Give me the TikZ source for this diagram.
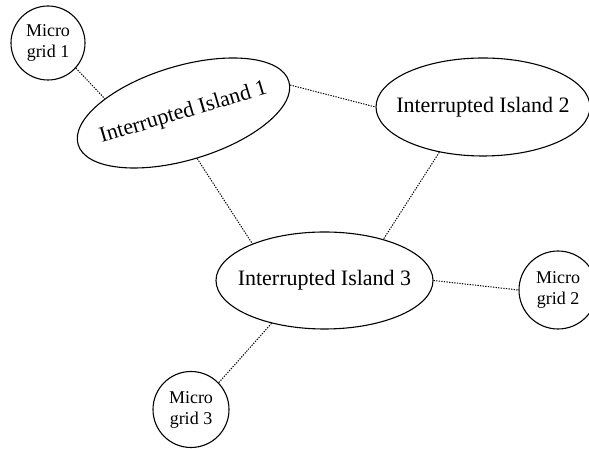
\documentclass[tikz,border=0pt]{standalone}
\usepackage{fontspec}
\setmainfont{Liberation Serif}
\usetikzlibrary{shapes.geometric}
\newcommand{\islandlabel}[1]{\makebox[0pt]{#1}}

\begin{document}
\begin{tikzpicture}[x=1pt,y=1pt,
        island/.style={ellipse,draw,line width=1.1pt,inner sep=0pt,font=\fontsize{22}{26}\selectfont},
        mgrid/.style={circle,draw,line width=1.1pt,inner sep=0pt,align=center,font=\fontsize{18}{21}\selectfont},
        link/.style={line width=1pt,dash pattern=on 1.3pt off 1.3pt}]
        \useasboundingbox (0,0) rectangle (589,449);
        \node[mgrid,minimum size=74pt] (m1) at (48,406) {Micro\\grid 1};
        \node[island,minimum width=220pt,minimum height=94pt,rotate=16.7] (i1) at (183.5,336) {\islandlabel{Interrupted Island 1}};
        \node[island,minimum width=214pt,minimum height=98pt] (i2) at (483,342) {\islandlabel{Interrupted Island 2}};
        \node[island,minimum width=217pt,minimum height=97pt] (i3) at (324.5,168.5) {\islandlabel{Interrupted Island 3}};
        \node[mgrid,minimum size=78pt] (m2) at (558,159) {Micro\\grid 2};
        \node[mgrid,minimum size=76pt] (m3) at (191,39.5) {Micro\\grid 3};
        \draw [link] (m1.-42) -- (i1.153);
        \draw [link] (i1.-2) -- (i2.180);
        \draw [link] (i1.-90) -- (i3.153);
        \draw [link] (i2.226) -- (i3.35);
        \draw [link] (i3.0) -- (m2.180);
        \draw [link] (i3.219) -- (m3.44);
    \end{tikzpicture}
\end{document}
